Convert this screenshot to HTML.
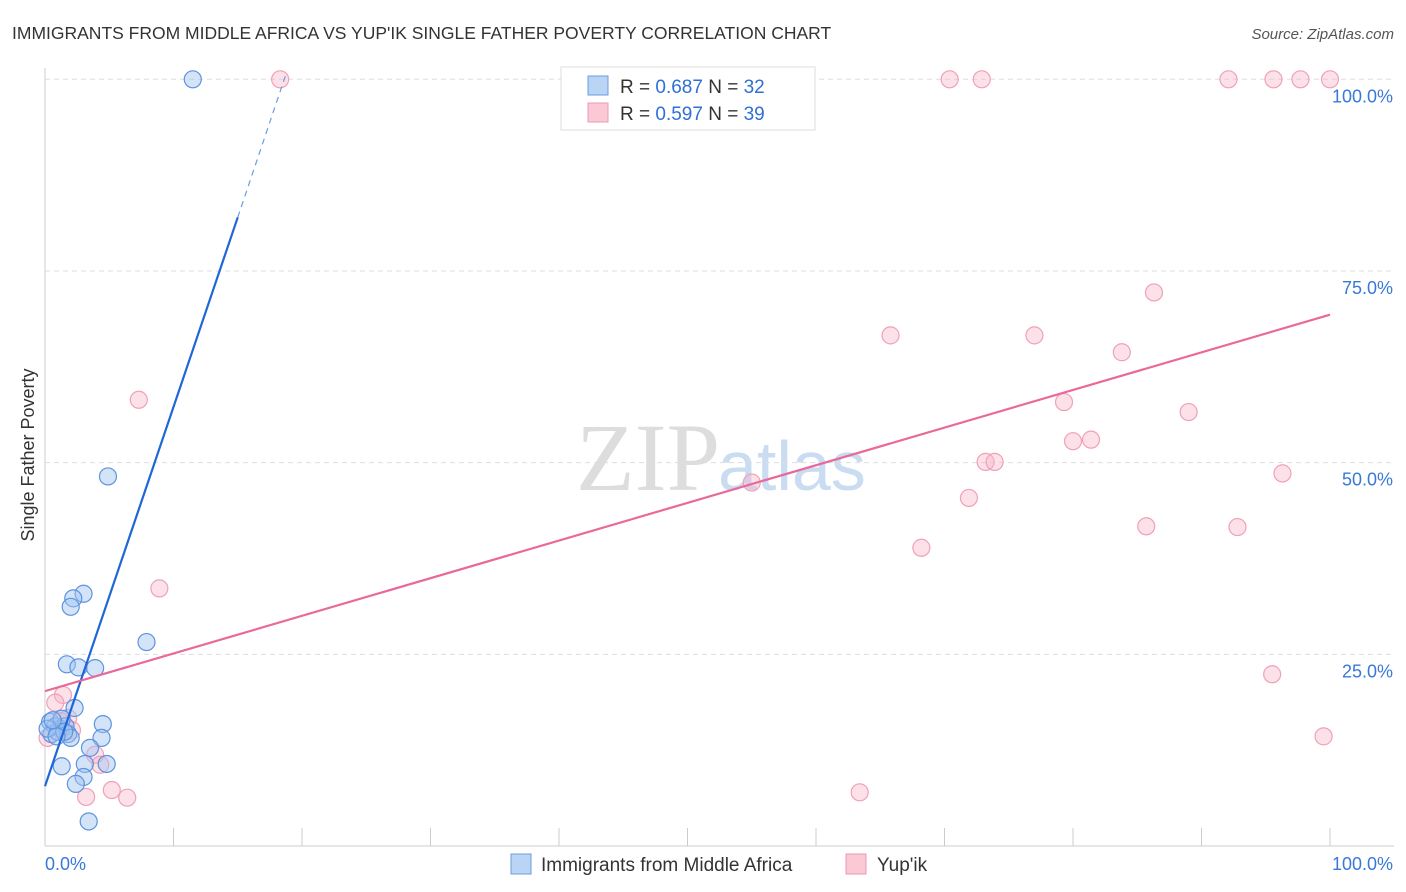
<!DOCTYPE html>
<html><head><meta charset="utf-8"><style>
body{margin:0;background:#fff;font-family:"Liberation Sans",sans-serif;}
#wrap{position:relative;width:1406px;height:892px;overflow:hidden;}
</style></head><body>
<div id="wrap">
<svg id="svg" width="1406" height="892" xmlns="http://www.w3.org/2000/svg">
<text x="12" y="39" font-size="17.5" fill="#333">IMMIGRANTS FROM MIDDLE AFRICA VS YUP'IK SINGLE FATHER POVERTY CORRELATION CHART</text>
<text x="1394" y="39" font-size="15" fill="#555" text-anchor="end" font-style="italic">Source: ZipAtlas.com</text>
<text x="720" y="490" font-size="96" fill="#ddd" text-anchor="end" font-family="Liberation Serif,serif">ZIP</text>
<text x="718" y="490" font-size="70" fill="#c9dcf2">atlas</text>
<text transform="translate(34,455) rotate(-90)" font-size="18" fill="#333" text-anchor="middle">Single Father Poverty</text>
<g id="grid"></g><g id="marks"></g>
<g>
<rect x="561" y="67" width="254" height="63" fill="#fff" stroke="#ddd"/>
<rect x="588" y="76" width="20" height="19" fill="#b9d4f5" stroke="#6a9de0"/>
<rect x="588" y="103" width="20" height="19" fill="#fbc8d6" stroke="#ee9ab2"/>
<text x="620" y="93" font-size="19" fill="#333">R = <tspan fill="#2f6fd6">0.687</tspan>   N = <tspan fill="#2f6fd6">32</tspan></text>
<text x="620" y="120" font-size="19" fill="#333">R = <tspan fill="#2f6fd6">0.597</tspan>   N = <tspan fill="#2f6fd6">39</tspan></text>
</g>
<g>
<rect x="511" y="854" width="20" height="20" fill="#b9d4f5" stroke="#6a9de0"/>
<text x="541" y="871" font-size="19" fill="#333">Immigrants from Middle Africa</text>
<rect x="846" y="854" width="20" height="20" fill="#fbc8d6" stroke="#ee9ab2"/>
<text x="877" y="871" font-size="19" fill="#333">Yup'ik</text>
</g>
</svg></div>
<script>
const yTicks=[25,50,75,100];
const xTickLabels=["0.0%","100.0%"];
const blueX=[11.5,4.9,3.0,2.2,2.0,7.9,1.7,2.6,3.9,2.3,4.5,4.4,3.5,3.1,4.8,1.3,3.0,2.4,3.4,0.4,0.8,1.2,1.6,0.5,1.0,1.8,1.3,0.2,2.0,1.5,0.9,0.6];
const blueY=[100,48.2,32.9,32.3,31.2,26.6,23.7,23.3,23.2,18.0,15.9,14.1,12.8,10.7,10.7,10.4,9.0,8.1,3.2,16.2,15.6,15.3,15.6,14.6,14.9,14.6,16.6,15.3,14.1,14.9,14.3,16.4];
const pinkX=[18.3,70.4,72.9,92.1,95.6,97.7,100,86.3,65.8,77.0,83.8,79.3,89.0,7.3,80.0,81.4,73.2,73.9,55.0,96.3,71.9,85.7,92.8,68.2,8.9,95.5,99.5,63.4,1.4,0.8,1.8,2.1,0.2,3.9,4.3,5.2,3.2,6.4,1.2];
const pinkY=[100,100,100,100,100,100,100,72.2,66.6,66.6,64.4,57.9,56.6,58.2,52.8,53.0,50.1,50.1,47.4,48.6,45.4,41.7,41.6,38.9,33.6,22.4,14.3,7.0,19.7,18.7,16.7,15.1,14.1,11.9,10.6,7.3,6.4,6.3,16.3];
const blueTrend=[0,7.8,15,82,18.7,100.4];
const pinkTrend=[0,20.2,100,69.3];
const X=v=>45+v*12.85, Y=v=>846-v*7.667;
const NS="http://www.w3.org/2000/svg";
const grid=document.getElementById('grid'),marks=document.getElementById('marks');
function mk(p,tag,a){const e=document.createElementNS(NS,tag);for(const k in a)e.setAttribute(k,a[k]);p.appendChild(e);return e;}
let ax=mk(grid,'line',{x1:45,y1:68,x2:45,y2:846,stroke:'#ccc'});

let bx=mk(grid,'line',{x1:45,y1:846,x2:1394,y2:846,stroke:'#ccc'});

for(let i=1;i<=10;i++){const l=mk(grid,'line',{x1:45+i*128.5,y1:828,x2:45+i*128.5,y2:846,stroke:'#ccc'});
}
yTicks.forEach(t=>{const l=mk(grid,'line',{x1:45,y1:Y(t),x2:1394,y2:Y(t),stroke:'#ddd','stroke-dasharray':'5,4'});

const tx=mk(grid,'text',{x:1393,y:Y(t)+23,'font-size':18,fill:'#3a78d8','text-anchor':'end'});tx.textContent=t.toFixed(1)+'%';
});
[[45,'start',0],[1393,'end',1]].forEach(([x,a,i])=>{const t=mk(grid,'text',{x:x,y:870,'font-size':18,fill:'#3a78d8','text-anchor':a});t.textContent=xTickLabels[i];
});
pinkX.forEach((v,i)=>{const c=mk(marks,'circle',{cx:X(v),cy:Y(pinkY[i]),r:8.5,fill:'rgba(248,180,200,0.4)',stroke:'#f0a0b8','stroke-width':1.2});
});
blueX.forEach((v,i)=>{const c=mk(marks,'circle',{cx:X(v),cy:Y(blueY[i]),r:8.5,fill:'rgba(160,195,240,0.45)',stroke:'#5d93e0','stroke-width':1.2});
});
let bt=mk(marks,'line',{x1:X(blueTrend[0]),y1:Y(blueTrend[1]),x2:X(blueTrend[2]),y2:Y(blueTrend[3]),stroke:'#1f67d6','stroke-width':2.2});

let bd=mk(marks,'line',{x1:X(blueTrend[2]),y1:Y(blueTrend[3]),x2:X(blueTrend[4]),y2:Y(blueTrend[5]),stroke:'#6a9de0','stroke-width':1.2,'stroke-dasharray':'6,5'});

let pt=mk(marks,'line',{x1:X(pinkTrend[0]),y1:Y(pinkTrend[1]),x2:X(pinkTrend[2]),y2:Y(pinkTrend[3]),stroke:'#e8699a','stroke-width':2.2});

</script>
</body></html>
